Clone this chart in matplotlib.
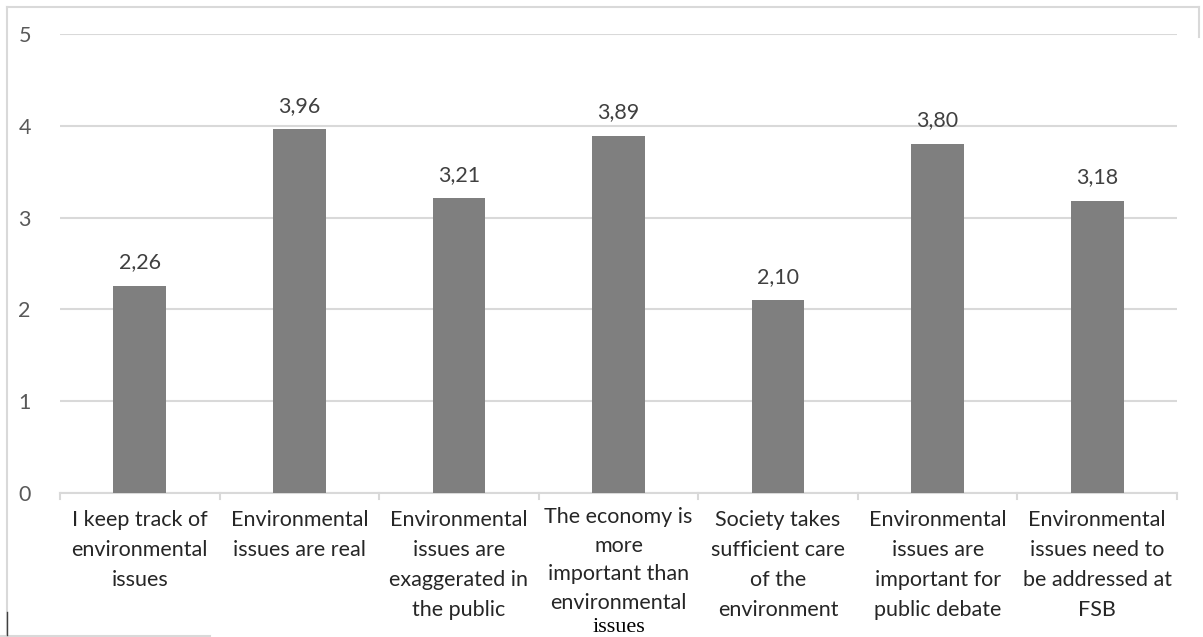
import matplotlib.pyplot as plt
from matplotlib.lines import Line2D

# survey statements and mean agreement scores
categories = [
    "I keep track of\nenvironmental\nissues",
    "Environmental\nissues are real",
    "Environmental\nissues are\nexaggerated in\nthe public",
    "The economy is\nmore\nimportant than\nenvironmental",
    "Society takes\nsufficient care\nof the\nenvironment",
    "Environmental\nissues are\nimportant for\npublic debate",
    "Environmental\nissues need to\nbe addressed at\nFSB",
]
scores = [2.26, 3.96, 3.21, 3.89, 2.10, 3.80, 3.18]
value_labels = ["2,26", "3,96", "3,21", "3,89", "2,10", "3,80", "3,18"]
yticks = [0, 1, 2, 3, 4, 5]

plt.rcParams['font.family'] = ['Lato', 'DejaVu Sans']

fig = plt.figure(figsize=(12.03, 6.37), dpi=100)
ax = fig.add_axes([60 / 1203, 1 - 493 / 637, 1117 / 1203, 459 / 637])

x = list(range(len(categories)))
ax.bar(x, scores, width=0.33, color="#7f7f7f", zorder=3)

for xi, s, lab in zip(x, scores, value_labels):
    ax.annotate(lab, (xi, s), xytext=(0, 17), textcoords="offset points",
                ha="center", va="center", fontsize=15.5, color="#404040")

ax.set_xlim(-0.5, len(categories) - 0.5)
ax.set_ylim(0, 5)
ax.set_yticks(yticks)
ax.set_yticklabels([str(t) for t in yticks], fontsize=15.5, color="#595959")
ax.yaxis.grid(True, color="#d9d9d9", linewidth=1.5, zorder=0)
ax.tick_params(axis="y", length=0, pad=21)
for s in ax.spines.values():
    s.set_visible(False)

# category axis line with boundary ticks
ax.axhline(0, color="#d9d9d9", linewidth=1.5, zorder=2, clip_on=False)
ax.set_xticks([])
for b in range(len(categories) + 1):
    ax.plot([b - 0.5, b - 0.5], [0, -0.06], color="#d9d9d9", linewidth=1.5,
            clip_on=False)

for xi, lab in zip(x, categories):
    off = -0.19 if xi != 3 else -0.15
    ls = 1.62 if xi != 3 else 1.55
    ax.text(xi, off, lab, ha="center", va="top", fontsize=15.5,
            color="#262626", linespacing=ls)
# last line of the 4th label is set in a serif face in the original
ax.text(3, -1.46, "issues", ha="center", va="center", fontsize=16,
        family="Liberation Serif", color="#000000")

# outer chart frame (left, top, right, and a short piece at the bottom)
W, H = 1203, 637
frame = [
    ([7, 7], [2, 630]),
    ([7, 1199], [630, 630]),
    ([1199, 1199], [630, 600]),
    ([0, 210], [1, 1]),
]
for xs, ys in frame:
    fig.add_artist(Line2D([v / W for v in xs], [v / H for v in ys],
                          transform=fig.transFigure, color="#d9d9d9",
                          linewidth=1.5))
fig.add_artist(Line2D([7 / W, 7 / W], [2 / H, 25 / H],
                      transform=fig.transFigure, color="#404040",
                      linewidth=1.0))

fig.savefig("out.png", dpi=100)
